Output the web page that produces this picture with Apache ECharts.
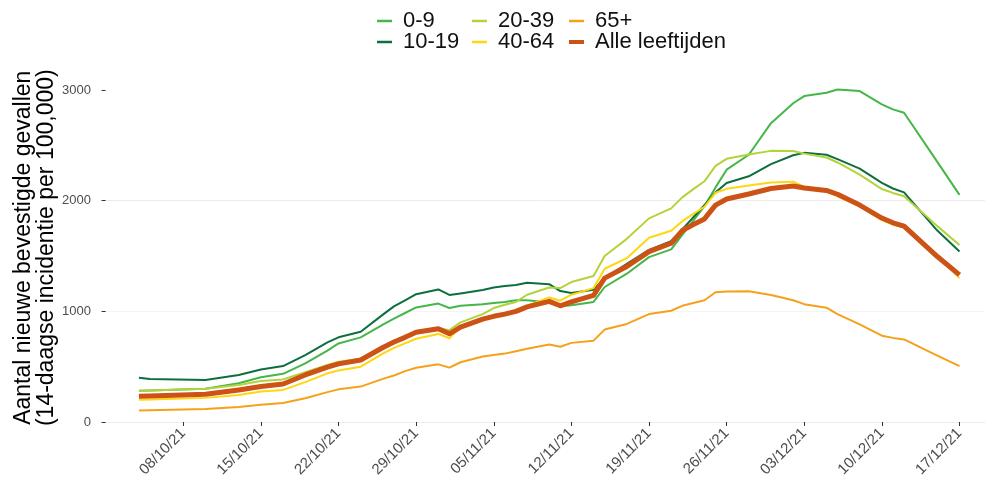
<!DOCTYPE html>
<html>
<head>
<meta charset="utf-8">
<script src="https://cdn.jsdelivr.net/npm/echarts@6/dist/echarts.min.js"></script>
<style>
  html, body { margin: 0; padding: 0; background: #fff; }
  #chart { width: 985px; height: 488px; }
</style>
</head>
<body>
<div id="chart"></div>
<script>
// dates of the points (dd/mm), 2021
const dates = [
  '2021-10-04', '2021-10-05', '2021-10-10', '2021-10-13', '2021-10-15', '2021-10-17',
  '2021-10-19', '2021-10-21', '2021-10-22', '2021-10-24', '2021-10-26', '2021-10-27',
  '2021-10-28', '2021-10-29', '2021-10-31', '2021-11-01', '2021-11-02', '2021-11-04',
  '2021-11-05', '2021-11-06', '2021-11-07', '2021-11-08', '2021-11-10', '2021-11-11',
  '2021-11-12', '2021-11-14', '2021-11-15', '2021-11-17', '2021-11-19', '2021-11-21',
  '2021-11-22', '2021-11-23', '2021-11-24', '2021-11-25', '2021-11-26', '2021-11-28',
  '2021-11-30', '2021-12-02', '2021-12-03', '2021-12-05', '2021-12-06', '2021-12-08',
  '2021-12-10', '2021-12-11', '2021-12-12', '2021-12-15', '2021-12-17'
];

const age0to9 = [283, 285, 300, 350, 405, 435, 530, 645, 710, 765, 880, 935, 985, 1035, 1070, 1030,
  1050, 1065, 1075, 1085, 1100, 1100, 1080, 1045, 1055, 1085, 1220, 1340, 1490, 1560, 1690, 1820,
  1950, 2120, 2280, 2415, 2700, 2880, 2945, 2975, 3005, 2990, 2870, 2825, 2795, 2350, 2052];
const age10to19 = [400, 388, 380, 425, 475, 505, 605, 720, 765, 815, 970, 1045, 1100, 1155, 1198, 1148,
  1162, 1193, 1216, 1228, 1238, 1258, 1245, 1183, 1165, 1195, 1300, 1430, 1555, 1635, 1740, 1850,
  1960, 2075, 2160, 2220, 2330, 2410, 2432, 2415, 2375, 2290, 2160, 2110, 2075, 1730, 1540];
const age20to39 = [283, 285, 300, 335, 370, 385, 450, 515, 545, 570, 680, 730, 770, 820, 850, 830,
  900, 975, 1030, 1060, 1085, 1150, 1215, 1210, 1265, 1320, 1500, 1655, 1840, 1930, 2030, 2104,
  2175, 2315, 2378, 2418, 2450, 2448, 2425, 2390, 2345, 2235, 2105, 2070, 2040, 1770, 1600];
const age40to64 = [200, 203, 218, 245, 275, 290, 360, 440, 466, 500, 618, 670, 710, 752, 796, 757,
  860, 935, 965, 985, 1005, 1050, 1125, 1096, 1150, 1210, 1385, 1480, 1665, 1728, 1815, 1880,
  1945, 2072, 2107, 2137, 2165, 2172, 2125, 2085, 2040, 1950, 1825, 1785, 1755, 1500, 1300];
const age65plus = [105, 106, 118, 135, 155, 172, 215, 270, 295, 320, 390, 420, 460, 490, 521, 491,
  540, 592, 605, 618, 640, 662, 700, 680, 715, 735, 835, 886, 975, 1005, 1050, 1075,
  1100, 1172, 1180, 1181, 1147, 1100, 1065, 1033, 975, 882, 780, 760, 746, 600, 505];
const ageAll = [232, 235, 250, 290, 320, 343, 425, 495, 525, 560, 673, 723, 765, 811, 842, 797,
  857, 930, 955, 975, 1000, 1040, 1090, 1050, 1085, 1145, 1300, 1405, 1540, 1615, 1730, 1785,
  1835, 1960, 2015, 2060, 2110, 2132, 2115, 2092, 2058, 1960, 1843, 1800, 1770, 1495, 1330];

const seriesNames = ['0-9', '10-19', '20-39', '40-64', '65+', 'Alle leeftijden'];
const seriesValues = [age0to9, age10to19, age20to39, age40to64, age65plus, ageAll];
const seriesColors = ['#45b649', '#0e6f3e', '#b3d33a', '#ffd60f', '#f5a11c', '#cc5216'];
const seriesWidths = [2, 2, 2, 2, 2, 5];

const tickDates = [
  '2021-10-08', '2021-10-15', '2021-10-22', '2021-10-29', '2021-11-05', '2021-11-12',
  '2021-11-19', '2021-11-26', '2021-12-03', '2021-12-10', '2021-12-17'
];
const yTicks = [0, 1000, 2000, 3000];

const FONT = '"Liberation Sans", Arial, Helvetica, sans-serif';
const DAY0 = Date.UTC(2021, 9, 1);

function dayNum(s) {
  const p = s.split('-').map(Number);
  return (Date.UTC(p[0], p[1] - 1, p[2]) - DAY0) / 86400000;
}

function dayLabel(t) {
  const d = new Date(DAY0 + Math.round(t) * 86400000);
  const dd = String(d.getUTCDate()).padStart(2, '0');
  const mm = String(d.getUTCMonth() + 1).padStart(2, '0');
  const yy = String(d.getUTCFullYear()).slice(2);
  return dd + '/' + mm + '/' + yy;
}

const xs = dates.map(dayNum);
const tickDays = tickDates.map(dayNum);

// legend: 3 columns x 2 rows, filled column-wise
const legendCols = [377, 472, 569];
const legendRows = [10, 31];
const legends = seriesNames.map((name, i) => ({
  data: [name],
  left: legendCols[Math.floor(i / 2)],
  top: legendRows[i % 2],
  padding: 0,
  icon: 'rect',
  itemWidth: 15,
  itemHeight: i === 5 ? 4 : 2.5,
  textStyle: {
    fontFamily: FONT,
    fontSize: 22,
    lineHeight: 22,
    color: '#111',
    padding: [0, 0, 0, 6]
  }
}));

const chart = echarts.init(document.getElementById('chart'));

const option = {
  animation: false,
  backgroundColor: '#fff',
  legend: legends,
  grid: { left: 100, right: 0, top: 73.4, bottom: 66, outerBoundsMode: 'none', containLabel: false },
  xAxis: {
    type: 'value',
    min: -0.51,
    max: 79.3,
    offset: 3,
    axisLine: { show: false },
    splitLine: { show: false },
    axisTick: {
      show: true,
      customValues: tickDays,
      length: 4,
      lineStyle: { color: '#333', width: 1 }
    },
    axisLabel: {
      customValues: tickDays,
      formatter: v => dayLabel(v),
      rotate: 45,
      margin: 6,
      fontFamily: FONT,
      fontSize: 15,
      color: '#4d4d4d'
    }
  },
  yAxis: {
    type: 'value',
    min: 0,
    max: 3150,
    interval: 500,
    name: 'Aantal nieuwe bevestigde gevallen\n(14-daagse incidentie per 100,000)',
    nameLocation: 'middle',
    nameGap: 42,
    nameMoveOverlap: false,
    nameTextStyle: {
      fontFamily: FONT,
      fontSize: 23,
      color: '#000',
      lineHeight: 23
    },
    axisLine: { show: false },
    axisTick: {
      show: true,
      customValues: yTicks,
      length: 4,
      lineStyle: { color: '#333', width: 1 }
    },
    axisLabel: {
      customValues: yTicks,
      formatter: v => String(v),
      margin: 9,
      fontFamily: FONT,
      fontSize: 13,
      color: '#4d4d4d'
    },
    splitLine: {
      show: true,
      showMaxLine: false,
      lineStyle: { color: ['#ebebeb', '#f4f4f4'], width: 1 }
    }
  },
  series: seriesNames.map((name, i) => ({
    name: name,
    type: 'line',
    data: xs.map((t, j) => [t, seriesValues[i][j]]),
    showSymbol: false,
    symbol: 'none',
    color: seriesColors[i],
    lineStyle: { color: seriesColors[i], width: seriesWidths[i], join: 'round' },
    z: 2 + i
  }))
};

chart.setOption(option);
</script>
</body>
</html>
